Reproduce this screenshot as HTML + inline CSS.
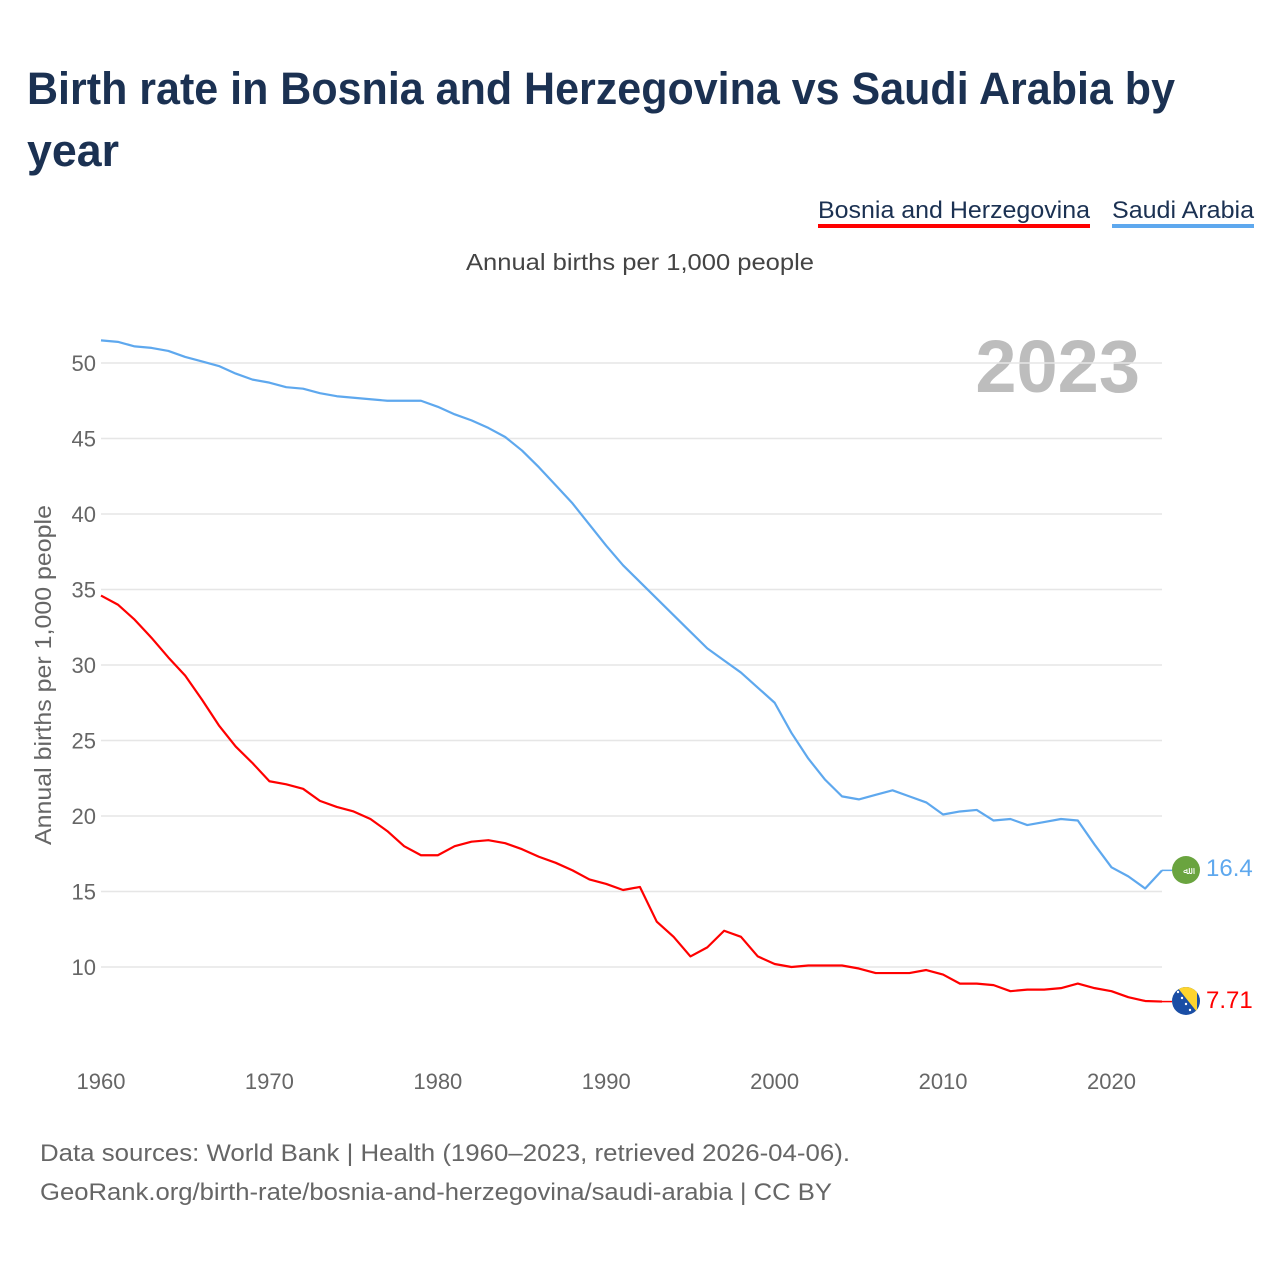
<!DOCTYPE html>
<html><head><meta charset="utf-8">
<style>
body{margin:0;background:#fff;font-family:"Liberation Sans",sans-serif;}
#wrap{position:relative;width:1280px;height:1280px;overflow:hidden;}
</style></head>
<body>
<div id="wrap">
<svg id="chart" width="1280" height="1280">
  <text x="27" y="104" font-size="45" font-weight="bold" fill="#1b3152" textLength="1148" lengthAdjust="spacingAndGlyphs">Birth rate in Bosnia and Herzegovina vs Saudi Arabia by</text>
  <text x="27" y="166" font-size="45" font-weight="bold" fill="#1b3152" textLength="92" lengthAdjust="spacingAndGlyphs">year</text>
  <g>
    <text x="818" y="218" font-size="24" fill="#1b3152" textLength="272" lengthAdjust="spacingAndGlyphs">Bosnia and Herzegovina</text>
    <rect x="818" y="224" width="272" height="4" fill="#ff0000"/>
  </g>
  <g>
    <text x="1112" y="218" font-size="24" fill="#1b3152" textLength="142" lengthAdjust="spacingAndGlyphs">Saudi Arabia</text>
    <rect x="1112" y="224" width="142" height="4" fill="#5ea8ee"/>
  </g>
  <text x="466" y="270" font-size="23" fill="#444" textLength="348" lengthAdjust="spacingAndGlyphs">Annual births per 1,000 people</text>
  <text x="1140" y="392" font-size="74" font-weight="bold" fill="#bdbdbd" text-anchor="end">2023</text>
  <text transform="translate(51,845) rotate(-90)" font-size="23" fill="#666" textLength="340" lengthAdjust="spacingAndGlyphs">Annual births per 1,000 people</text>
  <g id="grid"></g>
  <g id="lines"></g>
  <g>
    <circle cx="1186" cy="870" r="14" fill="#6aa43f"/>
    <text x="1186" y="874" font-size="10" fill="#fff" text-anchor="middle">ﷲ</text>
  </g>
  <g>
    <clipPath id="bc"><circle cx="1186" cy="1001" r="14"/></clipPath>
    <g clip-path="url(#bc)">
      <rect x="1172" y="987" width="28" height="28" fill="#1a4ea5"/>
      <polygon points="1177,987 1197,987 1197,1012" fill="#fdd42e"/>
      <circle cx="1178" cy="992" r="1.2" fill="#fff"/><circle cx="1182" cy="998" r="1.2" fill="#fff"/>
      <circle cx="1186" cy="1004" r="1.2" fill="#fff"/><circle cx="1190" cy="1010" r="1.2" fill="#fff"/>
    </g>
  </g>
  <text x="1206" y="876" font-size="24" fill="#5ea8ee">16.4</text>
  <text x="1206" y="1008" font-size="24" fill="#ff0000">7.71</text>
  <text x="40" y="1161" font-size="24" fill="#666" textLength="810" lengthAdjust="spacingAndGlyphs">Data sources: World Bank | Health (1960–2023, retrieved 2026-04-06).</text>
  <text x="40" y="1200" font-size="24" fill="#666" textLength="792" lengthAdjust="spacingAndGlyphs">GeoRank.org/birth-rate/bosnia-and-herzegovina/saudi-arabia | CC BY</text>
</svg>
</div>
<script>
const years = [];
for (let y = 1960; y <= 2023; y++) years.push(y);
const saudiValues = [51.5,51.4,51.1,51.0,50.8,50.4,50.1,49.8,49.3,48.9,48.7,48.4,48.3,48.0,47.8,47.7,47.6,47.5,47.5,47.5,47.1,46.6,46.2,45.7,45.1,44.2,43.1,41.9,40.7,39.3,37.9,36.6,35.5,34.4,33.3,32.2,31.1,30.3,29.5,28.5,27.5,25.5,23.8,22.4,21.3,21.1,21.4,21.7,21.3,20.9,20.1,20.3,20.4,19.7,19.8,19.4,19.6,19.8,19.7,18.1,16.6,16.0,15.2,16.4];
const bosniaValues = [34.6,34.0,33.0,31.8,30.5,29.3,27.7,26.0,24.6,23.5,22.3,22.1,21.8,21.0,20.6,20.3,19.8,19.0,18.0,17.4,17.4,18.0,18.3,18.4,18.2,17.8,17.3,16.9,16.4,15.8,15.5,15.1,15.3,13.0,12.0,10.7,11.3,12.4,12.0,10.7,10.2,10.0,10.1,10.1,10.1,9.9,9.6,9.6,9.6,9.8,9.5,8.9,8.9,8.8,8.4,8.5,8.5,8.6,8.9,8.6,8.4,8.0,7.75,7.71];
const yTicks = [10,15,20,25,30,35,40,45,50];
const xTicks = [1960,1970,1980,1990,2000,2010,2020];

const NS = "http://www.w3.org/2000/svg";
function xs(yr){ return 101 + (yr - 1960) * (1162 - 101) / 63; }
function ys(v){ return 967 - (v - 10) * 15.1; }

const grid = document.getElementById('grid');
yTicks.forEach(t => {
  const l = document.createElementNS(NS,'line');
  l.setAttribute('x1',101); l.setAttribute('x2',1162);
  l.setAttribute('y1',ys(t)); l.setAttribute('y2',ys(t));
  l.setAttribute('stroke','#e6e6e6'); l.setAttribute('stroke-width','1.5');
  
  
  grid.appendChild(l);
  const tx = document.createElementNS(NS,'text');
  tx.setAttribute('x',96); tx.setAttribute('y',ys(t)+8);
  tx.setAttribute('text-anchor','end'); tx.setAttribute('font-size','22'); tx.setAttribute('fill','#666');
  tx.textContent = t;
  
  
  grid.appendChild(tx);
});
xTicks.forEach(t => {
  const tx = document.createElementNS(NS,'text');
  tx.setAttribute('x',xs(t)); tx.setAttribute('y',1089);
  tx.setAttribute('text-anchor','middle'); tx.setAttribute('font-size','22'); tx.setAttribute('fill','#666');
  tx.textContent = t;
  
  
  grid.appendChild(tx);
});

const lines = document.getElementById('lines');
function draw(vals, color, name){
  const p = document.createElementNS(NS,'polyline');
  p.setAttribute('points', vals.map((v,i)=>xs(years[i])+','+ys(v)).join(' '));
  p.setAttribute('fill','none'); p.setAttribute('stroke',color); p.setAttribute('stroke-width','2.2');
  p.setAttribute('stroke-linejoin','round');
  
  
  lines.appendChild(p);
  const last = vals[vals.length-1];
  const c = document.createElementNS(NS,'line');
  c.setAttribute('x1',xs(2023)); c.setAttribute('x2',1172);
  c.setAttribute('y1',ys(last)); c.setAttribute('y2',ys(last));
  c.setAttribute('stroke',color); c.setAttribute('stroke-width','1.5');
  
  
  lines.appendChild(c);
}
draw(saudiValues,'#5ea8ee','saudi-arabia-line');
draw(bosniaValues,'#ff0000','bosnia-line');
</script>
</body></html>
